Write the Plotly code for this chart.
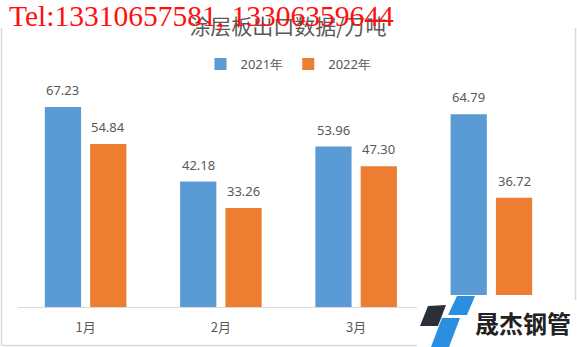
import plotly.graph_objects as go

months = ["1月", "2月", "3月", "4月"]
series_names = ["2021年", "2022年"]
v2021 = [67.23, 42.18, 53.96, 64.79]
v2022 = [54.84, 33.26, 47.30, 36.72]
colors = ["#5B9BD5", "#ED7D31"]

W, H = 577, 347
L, R, T, B = 18, 18, 84, 40
PW, PH = W - L - R, H - T - B
YMAX = 75

def px(x):
    return (x - L) / PW

def py(y):
    return (H - B - y) / PH

fig = go.Figure()
for name, vals, c in zip(series_names, [v2021, v2022], colors):
    fig.add_trace(go.Bar(x=months, y=vals, name=name, marker=dict(color=c, line=dict(width=0))))

annotations = []
for shift, vals in zip([-22.7, 22.7], [v2021, v2022]):
    for m, v in zip(months, vals):
        annotations.append(dict(x=m, y=v, xref="x", yref="y", text=f"{v:.2f}", showarrow=False,
                                xshift=shift, yshift=17, yanchor="middle",
                                font=dict(family="Noto Sans", size=13, color="#595959")))

# watermark
annotations.append(dict(x=px(7), y=py(16), xref="paper", yref="paper", xanchor="left", yanchor="middle",
                        text="Tel:13310657581, 13306359644", showarrow=False,
                        font=dict(family="Liberation Serif", size=29.5, color="#FF1010")))
# logo text
annotations.append(dict(x=px(523), y=py(322), xref="paper", yref="paper", xanchor="center", yanchor="middle",
                        text="<b>晟杰钢管</b>", showarrow=False,
                        font=dict(family="Noto Sans CJK SC", size=24, color="#222222")))

def poly(pts):
    return "M " + " L ".join(f"{px(x)},{py(y)}" for x, y in pts) + " Z"

shapes = [
    # frame lines
    dict(type="line", xref="paper", yref="paper", x0=px(1.5), x1=px(1.5), y0=py(28), y1=py(345.5),
         line=dict(color="#D9D9D9", width=1.5), layer="above"),
    dict(type="line", xref="paper", yref="paper", x0=px(1.5), x1=px(575.5), y0=py(345.5), y1=py(345.5),
         line=dict(color="#D9D9D9", width=1.5), layer="above"),
    # logo white patch
    dict(type="rect", xref="paper", yref="paper", x0=px(417), x1=px(578), y0=py(295), y1=py(348),
         fillcolor="white", line=dict(width=0), layer="above"),
    dict(type="line", xref="paper", yref="paper", x0=px(575.5), x1=px(575.5), y0=py(28), y1=py(300),
         line=dict(color="#D9D9D9", width=1.5), layer="above"),
    dict(type="path", xref="paper", yref="paper", path=poly([(428, 306), (446, 305), (438, 326), (420, 326)]),
         fillcolor="#2B3038", line=dict(width=0), layer="above"),
    dict(type="path", xref="paper", yref="paper", path=poly([(457, 296), (475, 296), (467, 315), (448, 315)]),
         fillcolor="#2A8FE0", line=dict(width=0), layer="above"),
    dict(type="path", xref="paper", yref="paper", path=poly([(442, 318), (460, 318), (449, 347), (431, 347)]),
         fillcolor="#2A8FE0", line=dict(width=0), layer="above"),
]

fig.update_layout(
    width=W, height=H,
    margin=dict(l=L, r=R, t=T, b=B, pad=0),
    paper_bgcolor="white", plot_bgcolor="white",
    title=dict(text="涂层板出口数据/万吨", x=288 / W, xanchor="center", y=1 - 27 / H, yanchor="middle",
               font=dict(family="Noto Sans CJK SC", size=21, color="#595959")),
    barmode="group", bargap=0.33, bargroupgap=0.2,
    showlegend=True,
    legend=dict(orientation="h", x=0.5, xanchor="center", y=py(64), yanchor="middle",
                font=dict(family="Noto Sans", size=13, color="#595959"), bgcolor="rgba(0,0,0,0)"),
    xaxis=dict(showline=True, linecolor="#D9D9D9", linewidth=1, ticks="", showgrid=False,
               tickfont=dict(family="Noto Sans CJK SC", size=13, color="#595959"), ticklabelstandoff=8),
    yaxis=dict(range=[0, YMAX], visible=False, showgrid=False, zeroline=False),
    annotations=annotations,
    shapes=shapes,
)

fig.write_html("out.html")
